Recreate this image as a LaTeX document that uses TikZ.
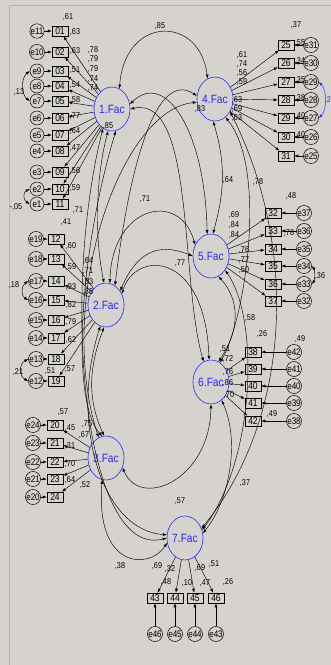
\documentclass[tikz,border=0pt]{standalone}
\usepackage{fontspec}
\setmainfont{Liberation Sans}[FakeStretch=0.85]
\usetikzlibrary{shapes.geometric,arrows.meta}
\definecolor{panel}{HTML}{D6D3CE}
\definecolor{facblue}{RGB}{40,40,255}
\tikzset{
  fac/.style={ellipse, draw=facblue, text=facblue, line width=0.6pt, minimum width=25pt, minimum height=44pt, inner sep=0pt, font=\fontsize{12}{12}\selectfont},
  item/.style={rectangle, draw, line width=0.5pt, minimum width=16pt, minimum height=10pt, inner sep=0pt, font=\fontsize{10}{10}\selectfont},
  err/.style={circle, draw, line width=0.5pt, minimum size=14pt, inner sep=0pt, font=\fontsize{9.5}{9.5}\selectfont},
  arr/.style={-{Latex[length=4pt,width=3pt]}, line width=0.45pt},
  cov/.style={{Latex[length=4pt,width=3pt]}-{Latex[length=4pt,width=3pt]}, line width=0.45pt},
  num/.style={font=\fontsize{8.5}{8.5}\selectfont, inner sep=0pt},
}
\begin{document}
\begin{tikzpicture}[x=1pt,y=-1pt]
\fill[panel] (0,0) rectangle (331,665);
\useasboundingbox (0,0) rectangle (331,665);
\draw[gray!60, line width=0.6pt] (9,665) -- (9,5) -- (331,5);

% latent factors
\node[fac] (f1) at (112,109) {1.Fac};
\node[fac] (f2) at (106,305) {2.Fac};
\node[fac] (f3) at (106,458) {3.Fac};
\node[fac] (f4) at (215,99)  {4.Fac};
\node[fac] (f5) at (211,256) {5.Fac};
\node[fac] (f6) at (211,382) {6.Fac};
\node[fac] (f7) at (185,538) {7.Fac};

% indicators of 1.Fac
\foreach \n/\y/\e in {01/31/11,02/52/10,03/71/9,04/86/8,05/101/7,06/118/6,07/135/5,08/151/4,09/172/3,10/189/2,11/204/1}{
  \node[item] (i\n) at (60,\y) {\n};
  \node[err] (e\e) at (37,\y) {e\e};
  \draw[arr] (e\e) -- (i\n);
  \draw[arr] (f1) -- (i\n);
}
% indicators of 2.Fac
\foreach \n/\y/\e in {12/239/19,13/259/18,14/281/17,15/300/16,16/320/15,17/338/14,18/359/13,19/381/12}{
  \node[item] (i\n) at (56,\y) {\n};
  \node[err] (e\e) at (36,\y) {e\e};
  \draw[arr] (e\e) -- (i\n);
  \draw[arr] (f2) -- (i\n);
}
% indicators of 3.Fac
\foreach \n/\y/\e in {20/425/24,21/443/23,22/462/22,23/479/21,24/497/20}{
  \node[item] (i\n) at (55,\y) {\n};
  \node[err] (e\e) at (33,\y) {e\e};
  \draw[arr] (e\e) -- (i\n);
  \draw[arr] (f3) -- (i\n);
}
% indicators of 4.Fac
\foreach \n/\y/\e in {25/45/31,26/63/30,27/82/29,28/100/28,29/118/27,30/137/26,31/156/25}{
  \node[item] (i\n) at (286,\y) {\n};
  \node[err] (e\e) at (311,\y) {e\e};
  \draw[arr] (e\e) -- (i\n);
  \draw[arr] (f4) -- (i\n);
}
% indicators of 5.Fac
\foreach \n/\y/\e in {32/213/37,33/231/36,34/249/35,35/266/34,36/284/33,37/301/32}{
  \node[item] (i\n) at (273,\y) {\n};
  \node[err] (e\e) at (304,\y) {e\e};
  \draw[arr] (e\e) -- (i\n);
  \draw[arr] (f5) -- (i\n);
}
% indicators of 6.Fac
\foreach \n/\y/\e in {38/352/42,39/369/41,40/386/40,41/403/39,42/421/38}{
  \node[item] (i\n) at (253,\y) {\n};
  \node[err] (e\e) at (294,\y) {e\e};
  \draw[arr] (e\e) -- (i\n);
  \draw[arr] (f6) -- (i\n);
}
% indicators of 7.Fac
\foreach \n/\x/\e in {43/155/46,44/175/45,45/195/44,46/216/43}{
  \node[item] (i\n) at (\x,598) {\n};
  \node[err] (e\e) at (\x,634) {e\e};
  \draw[arr] (e\e) -- (i\n);
  \draw[arr] (f7) -- (i\n);
}

% error covariances
\draw[cov] (e9.west) .. controls (21,78) and (21,94) .. (e7.west);
\draw[cov] (e2.west) .. controls (23,192) and (23,200) .. (e1.west);
\draw[cov] (e17.west) .. controls (21,286) and (21,296) .. (e16.west);
\draw[cov] (e13.west) .. controls (19,364) and (19,376) .. (e12.west);
\draw[cov, facblue] (e29.east) .. controls (327,90) and (327,110) .. (e27.east);
\draw[cov] (e34.east) .. controls (315,270) and (315,280) .. (e33.east);

% factor covariances
\draw[cov] (f1.70) .. controls (125,15) and (200,15) .. (f4.110);
\draw[cov] (f1.15) .. controls (165,70) and (205,130) .. (f5.100);
\draw[cov] (f1.0) .. controls (195,95) and (180,280) .. (f6.110);
\draw[cov] (f1.-100) .. controls (95,180) and (95,240) .. (f2.95);
\draw[cov] (f1.-80) .. controls (80,250) and (70,400) .. (f3.100);
\draw[cov] (f1.-115) .. controls (60,300) and (85,560) .. (f7.180);
\draw[cov] (f4.170) .. controls (150,65) and (125,200) .. (f2.65);
\draw[cov] (f4.190) .. controls (120,110) and (55,300) .. (f3.110);
\draw[cov] (f4.-95) .. controls (228,170) and (222,200) .. (f5.85);
\draw[cov] (f4.-60) .. controls (268,170) and (245,320) .. (f6.65);
\draw[cov] (f4.-40) .. controls (300,250) and (290,420) .. (f7.30);
\draw[cov] (f2.80) .. controls (112,205) and (180,190) .. (f5.145);
\draw[cov] (f2.45) .. controls (140,245) and (165,245) .. (f5.180);
\draw[cov] (f2.35) .. controls (135,250) and (205,250) .. (f6.95);
\draw[cov] (f2.-95) .. controls (88,370) and (88,400) .. (f3.95);
\draw[cov] (f2.-105) .. controls (70,420) and (100,530) .. (f7.170);
\draw[cov] (f3.-30) .. controls (140,510) and (210,480) .. (f6.-90);
\draw[cov] (f3.-100) .. controls (95,570) and (150,570) .. (f7.195);
\draw[cov] (f5.-70) .. controls (240,300) and (240,330) .. (f6.70);
\draw[cov] (f5.-45) .. controls (260,320) and (255,460) .. (f7.25);
\draw[cov] (f6.-60) .. controls (240,440) and (230,500) .. (f7.15);

% estimates: factor covariances
\node[num] (c14) at (160,26) {,85};
\node[num] (c4b) at (200,109) {,83};
\node[num] (c45) at (228,180) {,64};
\node[num] (c46) at (258,182) {,78};
\node[num] (c25) at (145,199) {,71};
\node[num] (c26) at (180,263) {,77};
\node[num] (c56) at (250,318) {,58};
\node[num] (c23) at (63,412) {,57};
\node[num] (c67) at (245,483) {,37};
\node[num] (c7a) at (180,501) {,57};
\node[num] (c37) at (120,566) {,38};
% estimates: error covariances
\node[num] (ce1) at (19,92) {,13};
\node[num] (ce2) at (16,207) {-,05};
\node[num] (ce3) at (14,285) {,18};
\node[num] (ce4) at (18,372) {,21};
\node[num, text=facblue] (ce5) at (328,100) {,2};
\node[num] (ce6) at (320,276) {,36};

% estimates around 1.Fac
\node[num] at (68,17) {,61};
\foreach \t/\y in {{,78}/50,{,79}/59,{,79}/69,{,74}/79,{,74}/88}{\node[num] at (93,\y) {\t};}
\node[num] at (108,126) {,85};
\foreach \t/\y in {{,63}/32,{,63}/51,{,51}/70,{,54}/85,{,58}/100,{,77}/116,{,64}/131,{,47}/148,{,56}/171,{,59}/188}{\node[num] at (75,\y) {\t};}
\node[num] at (78,210) {,71};
% estimates around 2.Fac
\node[num] at (66,222) {,41};
\foreach \t/\y in {{,60}/246,{,59}/267,{,93}/287,{,82}/305,{,79}/322,{,62}/340}{\node[num] at (71,\y) {\t};}
\foreach \t/\y in {{,64}/261,{,71}/271,{,83}/282,{,88}/292}{\node[num] at (88,\y) {\t};}
\node[num] at (50,371) {,51};
\node[num] at (70,369) {,57};
% estimates around 3.Fac
\node[num] at (87,424) {,75};
\node[num] at (84,435) {,67};
\foreach \t/\y in {{,45}/428,{,31}/446,{,70}/464,{,64}/480}{\node[num] at (70,\y) {\t};}
\node[num] at (85,485) {,52};
% estimates around 4.Fac
\node[num] at (296,25) {,37};
\foreach \t/\y in {{,61}/55,{,74}/64,{,56}/73,{,59}/82}{\node[num] at (242,\y) {\t};}
\foreach \t/\y in {{,63}/100,{,69}/109,{,63}/118}{\node[num] at (237,\y) {\t};}
\foreach \t/\y in {{,55}/43,{,34}/61,{,35}/80,{,38}/98,{,40}/116,{,40}/135}{\node[num] at (300,\y) {\t};}
% estimates around 5.Fac
\node[num] at (291,196) {,48};
\foreach \t/\y in {{,69}/215,{,84}/225,{,84}/235}{\node[num] at (234,\y) {\t};}
\foreach \t/\y in {{,76}/250,{,77}/260,{,50}/270}{\node[num] at (244,\y) {\t};}
\node[num] at (289,233) {,78};
% estimates around 6.Fac
\node[num] at (262,334) {,26};
\node[num] at (300,339) {,49};
\node[num] at (225,349) {,51};
\node[num] at (228,359) {,72};
\node[num] at (228,372) {,76};
\node[num] at (228,383) {,86};
\node[num] at (229,395) {,70};
\node[num] at (272,414) {,49};
% estimates around 7.Fac
\node[num] at (157,566) {,69};
\node[num] at (170,569) {,32};
\node[num] at (166,582) {,48};
\node[num] at (187,583) {,10};
\node[num] at (200,568) {,69};
\node[num] at (214,564) {,51};
\node[num] at (205,583) {,47};
\node[num] at (228,582) {,26};
\end{tikzpicture}
\end{document}
